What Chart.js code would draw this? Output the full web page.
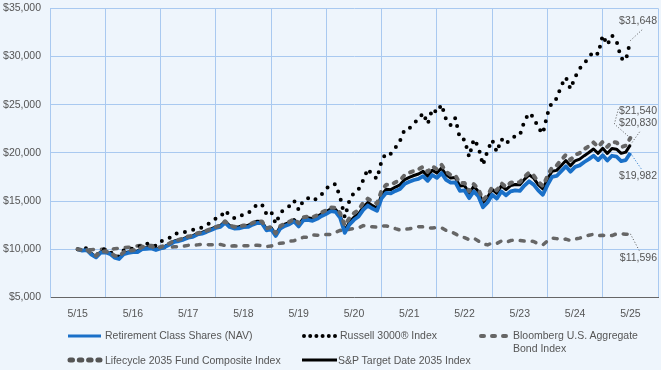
<!DOCTYPE html>
<html>
<head>
<meta charset="utf-8">
<script src="https://cdn.jsdelivr.net/npm/chart.js@4.4.0/dist/chart.umd.min.js"></script>
<style>
  body { margin: 0; background: #eef5fc; font-family: 'Liberation Sans', Arial, sans-serif; }
  #wrap { position: relative; width: 661px; height: 370px; overflow: hidden; }
  #chart { position: absolute; left: 0; top: -7px; }
  .lg { position: absolute; font-size: 10.5px; line-height: 13px; color: #555; white-space: nowrap; }
  .sw { position: absolute; }
</style>
</head>
<body>
<div id="wrap">
  <canvas id="chart" width="661" height="337"></canvas>
  <svg class="sw" style="left:66px;top:330px" width="38" height="12"><line x1="2" y1="6" x2="35" y2="6" stroke="#1a70c8" stroke-width="3"/></svg>
  <div class="lg" style="left:105px;top:329px">Retirement Class Shares (NAV)</div>
  <svg class="sw" style="left:300px;top:330px" width="40" height="12"><line x1="4" y1="6" x2="35" y2="6" stroke="#000" stroke-width="4" stroke-linecap="round" stroke-dasharray="0 6.2"/></svg>
  <div class="lg" style="left:340px;top:329px">Russell 3000® Index</div>
  <svg class="sw" style="left:476px;top:330px" width="38" height="12"><line x1="5" y1="6" x2="33" y2="6" stroke="#666" stroke-width="4" stroke-linecap="round" stroke-dasharray="3 8"/></svg>
  <div class="lg" style="left:513px;top:329px">Bloomberg U.S. Aggregate<br>Bond Index</div>
  <svg class="sw" style="left:66px;top:354px" width="38" height="12"><line x1="4" y1="6" x2="34" y2="6" stroke="#555" stroke-width="5" stroke-linecap="round" stroke-dasharray="2.5 6.8"/></svg>
  <div class="lg" style="left:105px;top:354px">Lifecycle 2035 Fund Composite Index</div>
  <svg class="sw" style="left:300px;top:354px" width="40" height="12"><line x1="2" y1="6" x2="37" y2="6" stroke="#000" stroke-width="3"/></svg>
  <div class="lg" style="left:338px;top:354px">S&amp;P Target Date 2035 Index</div>
</div>
<script>
// month index 0 = 5/15 ... 120 = 5/25
const months = Array.from({ length: 121 }, (_, i) => i);
const yearLabels = ['5/15', '5/16', '5/17', '5/18', '5/19', '5/20', '5/21', '5/22', '5/23', '5/24', '5/25'];

const fund = [
  10000, 9850, 9900, 9450, 9150, 9650, 9680, 9520, 9130, 8980, 9480, 9620,
  9700, 9700, 10010, 10050, 10080, 9920, 10070, 10240, 10480, 10760, 10850, 11000,
  11200, 11280, 11530, 11620, 11800, 12000, 12200, 12320, 12750, 12300, 12150, 12170,
  12300, 12310, 12550, 12730, 12700, 11960, 12090, 11380, 12150, 12420, 12600, 12880,
  12360, 12990, 13050, 12950, 13150, 13450, 13680, 13950, 13880, 13250, 11700, 12550,
  13050, 13400, 14080, 14530, 14220, 13980, 15300, 15850, 15800, 16050, 16250, 16780,
  17000, 17180, 17300, 17580, 17100, 17700, 17400, 17900, 17200, 16900, 16930, 16050,
  16100, 15300, 16000, 15500, 14350, 14850, 15650, 15250, 16000, 15600, 16000, 16100,
  16050, 16600, 17050, 16700, 16100, 15650, 16650, 17500, 17600, 18100, 18600, 18050,
  18550, 18700, 19050, 19350, 19700, 19250, 19750, 19200, 19700, 19600, 19150, 19250,
  19982
];
const russell = [
  10000, 9960, 10120, 9510, 9230, 9960, 10010, 9810, 9250, 9240, 9870, 9930,
  10100, 10130, 10530, 10560, 10550, 10320, 10790, 10990, 11200, 11620, 11630, 11750,
  11880, 11990, 12210, 12230, 12520, 12800, 13190, 13330, 14030, 13510, 13230, 13280,
  13650, 13740, 14170, 14660, 14680, 13630, 13910, 12640, 13750, 14230, 14470, 15040,
  14070, 15070, 15290, 15010, 15280, 15710, 16290, 16740, 16730, 15380, 13310, 15050,
  15880, 16230, 17150, 18350, 17680, 17300, 19190, 19990, 19900, 20530, 21270, 22420,
  22530, 23080, 23480, 24130, 23000, 24550, 24170, 25000, 23460, 22860, 23610, 21450,
  21380, 19580, 21420, 20630, 18730, 20230, 21330, 20090, 21430, 20920, 21480, 21720,
  21810, 23300, 24130, 23700, 22600, 21990, 24020, 25290, 25640, 26970, 27830, 26640,
  27860, 28750, 29270, 29900, 30530, 30250, 32200, 31190, 32190, 31600, 29800, 29580,
  31648
];
const bloomberg = [
  10000, 9890, 9960, 9950, 10010, 10010, 9980, 9950, 10050, 10100, 10150, 10200,
  10200, 10350, 10400, 10400, 10380, 10300, 10100, 10150, 10200, 10250, 10250, 10330,
  10400, 10400, 10450, 10520, 10480, 10470, 10450, 10500, 10380, 10300, 10350, 10300,
  10370, 10370, 10380, 10420, 10350, 10280, 10330, 10520, 10630, 10650, 10830, 10880,
  11080, 11230, 11250, 11480, 11450, 11500, 11520, 11530, 11760, 11960, 11880, 12080,
  12140, 12220, 12450, 12350, 12330, 12280, 12400, 12410, 12320, 12140, 11990, 12080,
  12120, 12210, 12340, 12320, 12210, 12210, 12240, 12220, 11950, 11820, 11600, 11300,
  11200, 11000, 11150, 10850, 10550, 10450, 10650, 10600, 10850, 10700, 10900, 10950,
  10900, 10850, 10850, 10800, 10550, 10450, 10850, 11150, 11100, 11000, 11050, 10900,
  11050, 11150, 11350, 11450, 11550, 11400, 11450, 11350, 11420, 11600, 11620, 11550,
  11596
];
const lifecycle = [
  10000, 9900, 9960, 9560, 9320, 9760, 9780, 9660, 9330, 9260, 9700, 9830,
  9900, 9950, 10240, 10290, 10310, 10130, 10230, 10400, 10620, 10890, 10990, 11140,
  11320, 11400, 11650, 11750, 11920, 12120, 12320, 12450, 12900, 12470, 12320, 12340,
  12470, 12480, 12730, 12900, 12880, 12170, 12300, 11650, 12400, 12660, 12860, 13140,
  12700, 13300, 13380, 13320, 13520, 13820, 14050, 14330, 14300, 13750, 12450, 13250,
  13750, 14100, 14800, 15250, 14950, 14750, 16100, 16700, 16700, 16950, 17150, 17700,
  17950, 18120, 18300, 18550, 18030, 18600, 18300, 18750, 18050, 17700, 17650, 16850,
  16880, 16000, 16750, 16250, 15100, 15600, 16450, 16100, 16850, 16450, 16900, 17000,
  16950, 17500, 17950, 17650, 17000, 16550, 17600, 18500, 18700, 19250, 19800, 19250,
  19800, 19980, 20380, 20700, 21080, 20620, 21150, 20620, 21150, 21080, 20600, 20750,
  21540
];
const spTarget = [
  10000, 9870, 9930, 9500, 9250, 9720, 9740, 9600, 9250, 9150, 9600, 9720,
  9790, 9800, 10100, 10150, 10170, 10000, 10150, 10320, 10560, 10850, 10950, 11100,
  11300, 11380, 11640, 11740, 11920, 12120, 12330, 12460, 12900, 12450, 12300, 12330,
  12460, 12470, 12720, 12900, 12870, 12100, 12250, 11550, 12330, 12600, 12790, 13080,
  12560, 13200, 13270, 13170, 13380, 13680, 13920, 14200, 14130, 13500, 11950, 12800,
  13320, 13680, 14380, 14850, 14520, 14280, 15650, 16220, 16180, 16450, 16680, 17230,
  17460, 17650, 17800, 18080, 17580, 18200, 17900, 18420, 17720, 17400, 17450, 16550,
  16600, 15800, 16520, 16000, 14850, 15380, 16200, 15800, 16580, 16180, 16600, 16720,
  16680, 17250, 17720, 17380, 16700, 16250, 17280, 18100, 18180, 18680, 19200, 18650,
  19170, 19350, 19710, 20030, 20400, 19950, 20470, 19940, 20460, 20380, 19950, 20080,
  20830
];

const GRID = '#a9c9f0';
const TEXT = '#555';
const FONT = "'Liberation Sans', Arial, sans-serif";

const money = v => '$' + Math.round(v).toLocaleString('en-US');

// value labels at the right end, with dotted leader lines
const endLabels = {
  id: 'endLabels',
  afterDatasetsDraw(chart) {
    const ctx = chart.ctx;
    const xs = chart.scales.x, ys = chart.scales.y;
    const last = months.length - 1;
    const px = xs.getPixelForValue(months[last]);
    const py = arr => ys.getPixelForValue(arr[last]);
    const tx = 657;

    ctx.save();
    ctx.font = '10.5px ' + FONT;
    ctx.fillStyle = TEXT;
    ctx.textAlign = 'right';
    ctx.textBaseline = 'middle';
    ctx.lineWidth = 1;
    ctx.setLineDash([1, 2]);

    function leader(color, pts) {
      ctx.strokeStyle = color;
      ctx.beginPath();
      ctx.moveTo(pts[0][0], pts[0][1]);
      for (let i = 1; i < pts.length; i++) ctx.lineTo(pts[i][0], pts[i][1]);
      ctx.stroke();
    }

    const yR = py(russell);
    leader('#555', [[px, yR], [px + 13, yR - 12]]);
    ctx.fillText(money(russell[last]), tx, yR - 19);

    const yL = py(lifecycle), yS = py(spTarget);
    leader('#555', [[px, yL], [px - 16, yL - 14], [px - 12, yL - 29]]);
    leader('#555', [[px, yS], [px + 10, yS - 14]]);
    ctx.fillText(money(lifecycle[last]), tx, yL - 27);
    ctx.fillText(money(spTarget[last]), tx, yS - 22);

    const yF = py(fund);
    leader('#1a70c8', [[px, yF], [px + 11, yF + 16]]);
    ctx.fillText(money(fund[last]), tx, yF + 23);

    const yB = py(bloomberg);
    leader('#555', [[px, yB], [px + 9, yB + 17]]);
    ctx.fillText(money(bloomberg[last]), tx, yB + 24);
    ctx.restore();
  }
};

new Chart(document.getElementById('chart').getContext('2d'), {
  type: 'line',
  data: {
    labels: months,
    datasets: [
      { label: 'Lifecycle 2035 Fund Composite Index', data: lifecycle, borderColor: '#666',
        borderWidth: 4, borderDash: [3, 7], borderCapStyle: 'round', order: 0 },
      { label: 'Retirement Class Shares (NAV)', data: fund, borderColor: '#1a70c8',
        borderWidth: 3.8, order: 1 },
      { label: 'S&P Target Date 2035 Index', data: spTarget, borderColor: '#000',
        borderWidth: 3, order: 2 },
      { label: 'Russell 3000® Index', data: russell, borderColor: '#000',
        borderWidth: 4, borderDash: [0, 8.5], borderCapStyle: 'round', order: 3 },
      { label: 'Bloomberg U.S. Aggregate Bond Index', data: bloomberg, borderColor: '#666',
        borderWidth: 3.5, borderDash: [4, 8], borderCapStyle: 'round', order: 4 }
    ]
  },
  options: {
    responsive: false,
    animation: false,
    events: [],
    elements: { point: { radius: 0 }, line: { tension: 0, fill: false, borderJoinStyle: 'round' } },
    layout: { padding: { left: 0, right: 3, top: 2, bottom: 0 } },
    plugins: { legend: { display: false }, tooltip: { enabled: false } },
    scales: {
      x: {
        type: 'linear',
        min: -6,
        max: 126,
        afterBuildTicks: s => {
          const t = [];
          for (let v = -6; v <= 126; v += 6) t.push({ value: v });
          s.ticks = t;
        },
        afterFit: s => { s.paddingLeft = 0; s.paddingRight = 0; },
        ticks: {
          autoSkip: false,
          maxRotation: 0,
          padding: 10,
          color: TEXT,
          font: { family: FONT, size: 10.5 },
          callback: v => (v % 12 === 0 ? yearLabels[v / 12] : '')
        },
        grid: {
          drawTicks: false,
          color: c => (c.tick && c.tick.value % 12 === 0 ? 'rgba(0,0,0,0)' : GRID)
        },
        border: { color: '#666', width: 1 }
      },
      y: {
        min: 5000,
        max: 35000,
        afterFit: s => { s.width = 50; },
        ticks: {
          stepSize: 5000,
          padding: 9,
          color: TEXT,
          font: { family: FONT, size: 10.5 },
          callback: v => money(v)
        },
        grid: { drawTicks: false, color: GRID },
        border: { color: GRID }
      }
    }
  },
  plugins: [endLabels]
});
</script>
</body>
</html>
